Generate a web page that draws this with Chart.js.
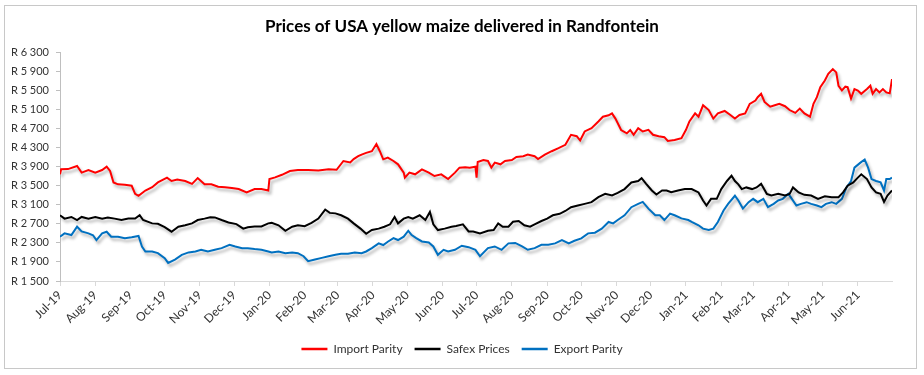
<!DOCTYPE html>
<html>
<head>
<meta charset="utf-8">
<script src="https://cdn.jsdelivr.net/npm/chart.js@4"></script>
<style>
	html, body { margin: 0; padding: 0; background: #fff; }
	#frame { position: absolute; left: 4px; top: 5px; width: 913px; height: 364px; border: 1px solid #c8c8c8; box-sizing: border-box; }
	#chart { position: absolute; left: 0; top: 0; }
</style>
</head>
<body>
<div id="frame"></div>
<canvas id="chart" width="924" height="375"></canvas>
<script>
// x values are days counted from 1 Jul 2019
const monthLabels = ['Jul-19','Aug-19','Sep-19','Oct-19','Nov-19','Dec-19','Jan-20','Feb-20','Mar-20','Apr-20','May-20','Jun-20',
	'Jul-20','Aug-20','Sep-20','Oct-20','Nov-20','Dec-20','Jan-21','Feb-21','Mar-21','Apr-21','May-21','Jun-21'];

const importDays = [0,1,7,15,19,25,31,37,41,44,47,51,57,63,66,69,75,81,86,94,98,103,110,116,121,127,133,139,145,151,157,164,171,177,183,184,189,195,202,209,218,227,236,243,249,255,258,262,265,269,274,278,281,284,288,293,297,302,303,307,312,318,324,329,335,341,347,351,356,360,365,366,367,372,376,379,382,387,391,397,401,407,411,417,420,426,432,438,444,449,454,457,461,467,473,477,482,485,488,493,498,501,504,508,512,517,521,526,531,534,540,546,550,553,558,561,565,570,574,578,584,589,593,597,602,606,611,613,616,619,624,628,632,637,641,646,650,654,659,662,665,668,672,675,679,682,684,687,690,692,695,698,701,704,709,712,714,717,720,723,726,729,731];
const importValues = [3740,3845,3850,3914,3776,3830,3776,3830,3900,3810,3570,3530,3520,3500,3330,3290,3400,3470,3570,3670,3600,3630,3600,3540,3660,3530,3530,3480,3470,3455,3430,3360,3430,3430,3400,3640,3675,3730,3810,3830,3830,3820,3845,3835,4020,3990,4060,4120,4155,4190,4225,4375,4225,4055,4090,4020,3950,3776,3670,3776,3740,3845,3776,3705,3740,3640,3776,3880,3890,3880,3900,3670,4000,4040,4020,3880,3985,3950,4020,4040,4105,4120,4155,4120,4060,4155,4225,4290,4360,4570,4540,4450,4640,4710,4850,4950,4980,5020,4910,4670,4600,4670,4570,4710,4640,4675,4570,4540,4520,4440,4460,4500,4675,4850,5020,4950,5190,5090,4910,5020,5070,4985,4910,4985,5020,5220,5290,5360,5430,5260,5160,5190,5220,5170,5090,5030,5120,5020,4950,5220,5360,5570,5710,5850,5950,5880,5600,5500,5580,5570,5330,5530,5500,5430,5530,5600,5430,5530,5460,5530,5460,5440,5740];

const safexDays = [0,4,10,15,19,25,31,37,42,48,54,60,66,70,73,81,86,92,98,104,110,116,121,127,132,136,142,148,155,161,165,171,177,183,186,192,198,204,209,215,221,227,233,237,242,247,253,258,264,269,274,280,285,290,294,297,302,306,310,316,321,325,328,332,338,344,348,354,359,363,369,376,381,385,389,394,398,403,408,413,417,423,428,433,439,444,449,455,461,467,473,479,485,490,496,502,508,511,515,520,524,529,533,537,543,549,555,561,565,568,572,577,581,586,590,593,596,599,603,608,612,616,621,625,631,637,641,644,649,654,660,666,672,678,684,688,692,697,701,704,709,713,717,721,724,727,731];
const safexValues = [2880,2810,2845,2780,2845,2810,2845,2810,2835,2810,2780,2810,2810,2880,2780,2710,2700,2630,2535,2640,2670,2710,2780,2810,2840,2835,2780,2730,2695,2600,2630,2645,2645,2710,2720,2670,2555,2640,2670,2650,2720,2810,3000,2930,2920,2880,2810,2710,2600,2490,2570,2600,2640,2690,2845,2710,2810,2845,2810,2880,2780,2950,2690,2570,2600,2640,2655,2690,2540,2540,2500,2555,2570,2710,2640,2640,2745,2760,2670,2640,2690,2760,2810,2880,2910,2970,3050,3085,3120,3155,3260,3330,3295,3350,3430,3570,3600,3660,3540,3400,3315,3400,3400,3365,3400,3430,3430,3360,3190,3085,3225,3225,3430,3600,3710,3600,3530,3430,3465,3430,3465,3540,3330,3295,3330,3295,3330,3465,3360,3310,3295,3225,3280,3260,3260,3360,3500,3570,3670,3740,3640,3465,3360,3330,3160,3295,3400];

const exportDays = [0,4,10,15,19,25,29,32,37,41,45,51,57,63,69,72,75,81,86,92,95,101,107,113,119,124,130,136,142,149,154,160,165,171,177,183,186,192,198,204,209,214,218,224,230,236,242,247,253,259,265,269,274,280,284,288,293,297,302,306,309,313,318,324,328,332,337,341,347,353,359,365,369,376,382,388,394,400,406,411,417,423,429,435,441,447,452,458,464,470,476,482,486,490,496,502,508,512,517,523,527,531,536,540,546,552,555,561,565,570,574,578,583,587,593,596,600,605,609,613,618,622,627,631,635,640,643,647,651,656,660,665,669,673,678,682,687,691,695,698,703,707,710,713,717,721,724,726,729,731];
const exportValues = [2430,2500,2465,2640,2540,2500,2460,2360,2500,2535,2430,2430,2400,2420,2445,2225,2120,2120,2085,1980,1880,1950,2050,2100,2120,2155,2120,2155,2190,2260,2225,2190,2190,2170,2155,2120,2100,2120,2085,2100,2085,2020,1915,1950,1985,2020,2050,2070,2070,2100,2085,2120,2190,2290,2255,2325,2400,2360,2430,2555,2465,2400,2330,2310,2225,2050,2155,2120,2155,2240,2210,2155,2020,2190,2225,2155,2290,2300,2225,2155,2190,2260,2260,2290,2360,2290,2345,2395,2500,2515,2600,2740,2710,2780,2880,3050,3120,3160,3020,2880,2880,2780,2915,2880,2815,2780,2740,2670,2600,2570,2600,2740,2980,3120,3290,3190,3020,3155,3225,3155,3225,3050,3120,3190,3225,3330,3225,3085,3120,3155,3120,3085,3050,3120,3155,3120,3225,3465,3600,3880,3980,4050,3880,3640,3600,3570,3400,3640,3640,3670];

// 月初の日数（x軸の目盛り位置）
const start = Date.UTC(2019, 6, 1);
const monthStarts = monthLabels.map(function(l, i) {
	return (Date.UTC(2019, 6 + i, 1) - start) / 86400000;
});

function pairs(days, values) {
	return days.map(function(d, i) { return { x: d, y: values[i] }; });
}

function randLabel(v) {
	const th = Math.floor(v / 1000);
	const rest = String(v % 1000).padStart(3, '0');
	return 'R ' + th + ' ' + rest;
}

// Excel風の線の影
const shadowPlugin = {
	id: 'lineShadow',
	beforeDatasetDraw: function(chart) {
		const ctx = chart.ctx;
		ctx.save();
		ctx.shadowColor = 'rgba(0,0,0,0.3)';
		ctx.shadowBlur = 3;
		ctx.shadowOffsetX = 2;
		ctx.shadowOffsetY = 3;
	},
	afterDatasetDraw: function(chart) {
		chart.ctx.restore();
	}
};

const font = 'Lato, "Open Sans", sans-serif';
Chart.defaults.font.family = font;
Chart.defaults.color = '#333';

const colors = ['#ff0000', '#000000', '#0070c0'];

new Chart(document.getElementById('chart'), {
	type: 'line',
	data: {
		datasets: [
			{ label: 'Import Parity', data: pairs(importDays, importValues), borderColor: colors[0], backgroundColor: colors[0] },
			{ label: 'Safex Prices', data: pairs(safexDays, safexValues), borderColor: colors[1], backgroundColor: colors[1] },
			{ label: 'Export Parity', data: pairs(exportDays, exportValues), borderColor: colors[2], backgroundColor: colors[2] }
		]
	},
	options: {
		responsive: false,
		animation: false,
		elements: {
			point: { radius: 0 },
			line: { borderWidth: 2, tension: 0 }
		},
		layout: { padding: { left: 0, right: 0, top: 0, bottom: 10 } },
		scales: {
			x: {
				type: 'linear',
				min: 0,
				max: 731,
				afterBuildTicks: function(scale) {
					scale.ticks = monthStarts.map(function(v) { return { value: v }; });
				},
				afterFit: function(scale) { scale.height = 50; },
				ticks: {
					autoSkip: false,
					minRotation: 45,
					maxRotation: 45,
					padding: 2,
					font: { size: 12 },
					callback: function(v, i) { return monthLabels[i]; }
				},
				grid: { drawOnChartArea: false, tickLength: 5, color: '#d9d9d9' },
				border: { color: '#d9d9d9' }
			},
			y: {
				min: 1500,
				max: 6300,
				afterBuildTicks: function(scale) {
					const t = [];
					for (let v = 1500; v <= 6300; v += 400) t.push({ value: v });
					scale.ticks = t;
				},
				afterFit: function(scale) { scale.width = 60; },
				ticks: {
					padding: 7,
					font: { size: 11 },
					callback: function(v) { return randLabel(v); }
				},
				grid: { drawOnChartArea: false, tickLength: 4, color: '#bfbfbf' },
				border: { color: '#bfbfbf' }
			},
			// 右側の余白用（表示なし）
			spacer: {
				type: 'linear',
				position: 'right',
				display: true,
				afterFit: function(scale) { scale.width = 32; },
				ticks: { display: false },
				grid: { display: false },
				border: { display: false }
			}
		},
		plugins: {
			title: {
				display: true,
				text: 'Prices of USA yellow maize delivered in Randfontein',
				color: '#000',
				font: { size: 17, weight: 'bold' },
				padding: { top: 16, bottom: 16 }
			},
			legend: {
				position: 'bottom',
				labels: {
					usePointStyle: true,
					pointStyle: 'line',
					pointStyleWidth: 26,
					boxHeight: 12,
					padding: 12,
					font: { size: 12 },
					color: '#333',
					generateLabels: function(chart) {
						return chart.data.datasets.map(function(ds, i) {
							return {
								text: ds.label,
								fillStyle: colors[i],
								strokeStyle: colors[i],
								lineWidth: 2.5,
								pointStyle: 'line',
								hidden: false,
								datasetIndex: i,
								fontColor: '#333'
							};
						});
					}
				}
			},
			tooltip: { enabled: false }
		}
	},
	plugins: [shadowPlugin]
});
</script>
</body>
</html>
